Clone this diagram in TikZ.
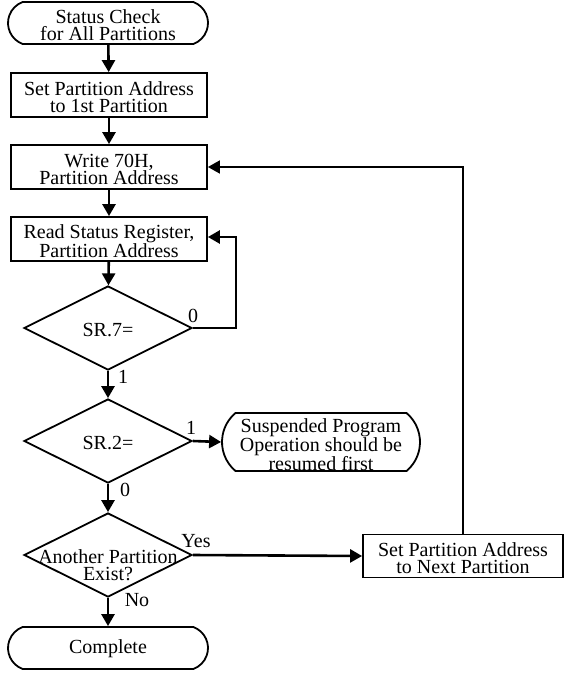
\documentclass[tikz,border=0pt]{standalone}
\usepackage{fontspec}
\setmainfont{Liberation Serif}
\usetikzlibrary{shapes.geometric,shapes.misc,arrows.meta}
\begin{document}
\begin{tikzpicture}[x=1pt,y=-1pt,
  every node/.style={font=\fontsize{20}{17}\selectfont, inner sep=0pt, align=center},
  procbox/.style={draw, line width=1.8pt, rectangle, minimum width=196pt, minimum height=44pt},
  termbox/.style={draw, line width=1.8pt, rounded rectangle, rounded rectangle arc length=140, minimum width=200pt, minimum height=42pt},
  decbox/.style={draw, line width=1.8pt, diamond, minimum width=168pt, minimum height=84pt},
  txt/.style={yshift=-2.5pt},
  flow/.style={line width=2.6pt, -{Triangle[length=12pt,width=13pt]}},
  thinflow/.style={line width=1.8pt, -{Triangle[length=12pt,width=13pt]}},
  lbl/.style={font=\fontsize{20}{17}\selectfont}
]
\useasboundingbox (0,0) rectangle (564,674);

\node[termbox] (start) at (108,23) {};
\node[txt] (startT) at (start.center) {Status Check\\for All Partitions};
\node[procbox] (set1) at (109,95) {};
\node[txt] (set1T) at (set1.center) {Set Partition Address\\to 1st Partition};
\node[procbox] (write) at (109,167) {};
\node[txt] (writeT) at (write.center) {Write 70H,\\Partition Address};
\node[procbox] (read) at (109,239) {};
\node[txt] (readT) at (read.center) {Read Status Register,\\Partition Address};
\node[decbox] (d1) at (108,328) {};
\node (d1T) at (108,330) {SR.7=};
\node[decbox] (d2) at (108,441) {};
\node (d2T) at (108,443) {SR.2=};
\node[draw, line width=1.8pt, rounded rectangle, rounded rectangle arc length=100, minimum width=198pt, minimum height=58pt] (susp) at (321,442) {};
\node[txt] (suspT) at (susp.center) {Suspended Program\\Operation should be\\resumed first};
\node[decbox] (d3) at (108,555) {};
\node (d3T) at (108,565) {Another Partition\\Exist?};
\node[termbox] (done) at (108,648) {};
\node (doneT) at (108,649) {Complete};
\node[procbox, minimum width=200pt, minimum height=43pt] (next) at (463,556) {};
\node[txt] (nextT) at (next.center) {Set Partition Address\\to Next Partition};

\coordinate (loop1) at (236,237);
\coordinate (loop2) at (463,167);

\draw[flow] (start) -- (set1);
\draw[flow] (set1) -- (write);
\draw[flow] (write) -- (read);
\draw[flow] (read) -- (d1);
\draw[flow] (d1.east) -| (loop1) -- (read.east |- loop1);
\draw[flow] (d1) -- (d2);
\draw[flow] (d2.east) -- (susp.west);
\draw[flow] (d2) -- (d3);
\draw[flow] (d3.east) -- (next.west);
\draw[flow] (d3) -- (done);
\draw[thinflow] (next.north) -- (loop2) -- (write.east);

\node[lbl] (l0a) at (193,316) {0};
\node[lbl] (l1a) at (123,377) {1};
\node[lbl] (l1b) at (191,428) {1};
\node[lbl] (l0b) at (125,490) {0};
\node[lbl] (lyes) at (196,541) {Yes};
\node[lbl] (lno) at (137,600) {No};
\end{tikzpicture}
\end{document}
